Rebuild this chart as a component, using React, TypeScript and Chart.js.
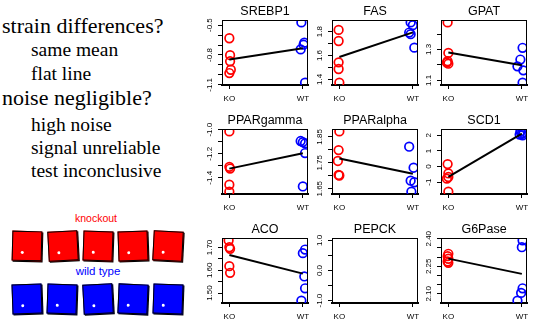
import React, { useEffect, useRef } from 'react';
import { Chart, registerables } from 'chart.js';

Chart.register(...registerables);

const GROUPS = ['KO', 'WT'];

const srebp1KO = [-0.632, -0.802, -0.863, -0.948, -0.981];
const srebp1KOx = [1.0, 1.01, 1.01, 1.02, 1.0];
const srebp1WT = [-0.473, -0.676, -0.696, -0.744, -1.077];
const srebp1WTx = [1.98, 2.02, 2.01, 1.97, 2.03];
const srebp1Ticks = [-1.1, -1.0, -0.9, -0.8, -0.7, -0.6, -0.5];
const srebp1Labels = ['-1.1', '', '', '-0.8', '', '', '-0.5'];

const fasKO = [1.815, 1.722, 1.543, 1.487, 1.373];
const fasKOx = [0.99, 0.99, 0.99, 0.99, 1.0];
const fasWT = [1.878, 1.855, 1.793, 1.779, 1.666];
const fasWTx = [1.97, 2.0, 1.95, 1.97, 2.02];
const fasTicks = [1.4, 1.5, 1.6, 1.7, 1.8];
const fasLabels = ['1.4', '', '1.6', '', '1.8'];

const gpatKO = [1.475, 1.278, 1.224, 1.215, 1.208];
const gpatKOx = [0.99, 1.0, 0.99, 0.98, 1.0];
const gpatWT = [1.311, 1.235, 1.191, 1.165, 1.086];
const gpatWTx = [2.01, 1.98, 1.94, 2.02, 2.01];
const gpatTicks = [1.1, 1.2, 1.3, 1.4];
const gpatLabels = ['1.1', '', '1.3', ''];

const ppargKO = [-1.014, -1.309, -1.323, -1.458, -1.515];
const ppargKOx = [1.0, 1.0, 1.01, 1.0, 1.0];
const ppargWT = [-1.094, -1.103, -1.114, -1.194, -1.472];
const ppargWTx = [1.97, 2.0, 2.03, 2.03, 2.0];
const ppargTicks = [-1.4, -1.3, -1.2, -1.1, -1.0];
const ppargLabels = ['-1.4', '', '-1.2', '', '-1.0'];

const pparaKO = [1.871, 1.799, 1.757, 1.701, 1.703];
const pparaKOx = [1.0, 0.99, 0.98, 1.0, 0.99];
const pparaWT = [1.812, 1.731, 1.681, 1.675, 1.639];
const pparaWTx = [1.95, 2.01, 1.97, 2.02, 1.98];
const pparaTicks = [1.65, 1.7, 1.75, 1.8, 1.85];
const pparaLabels = ['1.65', '', '1.75', '', '1.85'];

const scd1KO = [0.16, -0.44, -0.667, -0.773, -1.6];
const scd1KOx = [0.99, 1.0, 1.0, 0.98, 1.0];
const scd1WT = [2.25, 2.15, 2.1, 2.05, 2.0];
const scd1WTx = [1.98, 2.02, 2.0, 1.97, 2.01];
const scd1Ticks = [-1, 0, 1, 2];
const scd1Labels = ['-1', '0', '1', '2'];

const acoKO = [1.731, 1.701, 1.694, 1.618, 1.589];
const acoKOx = [0.99, 1.0, 1.01, 1.0, 1.01];
const acoWT = [1.691, 1.675, 1.573, 1.521, 1.467];
const acoWTx = [2.03, 2.0, 2.02, 2.03, 1.98];
const acoTicks = [1.5, 1.55, 1.6, 1.65, 1.7];
const acoLabels = ['1.50', '', '1.60', '', '1.70'];

const pepckKO: number[] = [];
const pepckKOx: number[] = [];
const pepckWT: number[] = [];
const pepckWTx: number[] = [];
const pepckTicks = [-1, -0.5, 0, 0.5, 1];
const pepckLabels = ['-1.0', '', '0.0', '', '1.0'];

const g6pKO = [2.318, 2.305, 2.291, 2.276, 2.269];
const g6pKOx = [1.0, 0.99, 1.0, 0.99, 1.0];
const g6pWT = [2.391, 2.354, 2.13, 2.105, 2.063];
const g6pWTx = [2.01, 2.0, 2.01, 1.99, 1.94];
const g6pTicks = [2.1, 2.15, 2.2, 2.25, 2.3, 2.35, 2.4];
const g6pLabels = ['2.10', '', '', '2.25', '', '', '2.40'];

type PanelData = {
  name: string;
  ko: number[];
  koX: number[];
  wt: number[];
  wtX: number[];
  ticks: number[];
  labels: string[];
};

const PANELS: PanelData[] = [
  { name: 'SREBP1', ko: srebp1KO, koX: srebp1KOx, wt: srebp1WT, wtX: srebp1WTx, ticks: srebp1Ticks, labels: srebp1Labels },
  { name: 'FAS', ko: fasKO, koX: fasKOx, wt: fasWT, wtX: fasWTx, ticks: fasTicks, labels: fasLabels },
  { name: 'GPAT', ko: gpatKO, koX: gpatKOx, wt: gpatWT, wtX: gpatWTx, ticks: gpatTicks, labels: gpatLabels },
  { name: 'PPARgamma', ko: ppargKO, koX: ppargKOx, wt: ppargWT, wtX: ppargWTx, ticks: ppargTicks, labels: ppargLabels },
  { name: 'PPARalpha', ko: pparaKO, koX: pparaKOx, wt: pparaWT, wtX: pparaWTx, ticks: pparaTicks, labels: pparaLabels },
  { name: 'SCD1', ko: scd1KO, koX: scd1KOx, wt: scd1WT, wtX: scd1WTx, ticks: scd1Ticks, labels: scd1Labels },
  { name: 'ACO', ko: acoKO, koX: acoKOx, wt: acoWT, wtX: acoWTx, ticks: acoTicks, labels: acoLabels },
  { name: 'PEPCK', ko: pepckKO, koX: pepckKOx, wt: pepckWT, wtX: pepckWTx, ticks: pepckTicks, labels: pepckLabels },
  { name: 'G6Pase', ko: g6pKO, koX: g6pKOx, wt: g6pWT, wtX: g6pWTx, ticks: g6pTicks, labels: g6pLabels },
];

const COL_LEFT = [222, 332, 441];
const ROW_TOP = [20, 129, 238];
const BOX_W = 86;
const BOX_H = 65;
const PAD_L = 32;
const PAD_T = 20;
const PAD_B = 16;
const PAD_R = 32;

const SANS = '"Liberation Sans", Arial, sans-serif';
const SERIF = '"Liberation Serif", "Times New Roman", serif';

const boxPlugin = {
  id: 'boxFrame',
  afterDraw(chart: any) {
    const { ctx, chartArea } = chart;
    ctx.save();
    ctx.strokeStyle = '#000';
    ctx.lineWidth = 1;
    ctx.strokeRect(
      Math.round(chartArea.left) + 0.5,
      Math.round(chartArea.top) + 0.5,
      Math.round(chartArea.right - chartArea.left) - 1,
      Math.round(chartArea.bottom - chartArea.top)
    );
    ctx.restore();
  },
};

function mean(a: number[]) {
  return a.reduce((s, v) => s + v, 0) / a.length;
}

function Panel({ p, left, top }: { p: PanelData; left: number; top: number }) {
  const ref = useRef<HTMLCanvasElement>(null);
  useEffect(() => {
    const all = [...p.ko, ...p.wt];
    let lo = all.length ? Math.min(...all) : -1;
    let hi = all.length ? Math.max(...all) : 1;
    const ext = (hi - lo) * 0.04;
    lo -= ext;
    hi += ext;
    const lineData = all.length
      ? [
          { x: 1, y: mean(p.ko) },
          { x: 2, y: mean(p.wt) },
        ]
      : [];
    const mctx = document.createElement('canvas').getContext('2d')!;
    mctx.font = '8px ' + SANS;
    const widest = Math.max(...p.labels.map((s) => mctx.measureText(s).width));
    const tickFont = { family: SANS, size: 8 };
    const chart = new Chart(ref.current!, {
      type: 'scatter',
      data: {
        datasets: [
          {
            data: lineData,
            showLine: true,
            borderColor: '#000',
            borderWidth: 2,
            pointRadius: 0,
            fill: false,
          },
          {
            data: p.ko.map((y, i) => ({ x: p.koX[i], y })),
            borderColor: '#ff0000',
            backgroundColor: 'rgba(0,0,0,0)',
            pointRadius: 4.3,
            borderWidth: 1.7,
          },
          {
            data: p.wt.map((y, i) => ({ x: p.wtX[i], y })),
            borderColor: '#0000ff',
            backgroundColor: 'rgba(0,0,0,0)',
            pointRadius: 4.3,
            borderWidth: 1.7,
          },
        ],
      } as any,
      options: {
        animation: false,
        responsive: false,
        events: [],
        layout: { padding: 0 },
        plugins: {
          legend: { display: false },
          tooltip: { enabled: false },
          title: {
            display: true,
            text: p.name,
            color: '#000',
            align: 'center',
            font: { family: SANS, size: 12.5, weight: 'normal' },
            padding: { top: 4, bottom: PAD_T - 15 - 4 },
          },
        },
        scales: {
          x: {
            type: 'linear',
            min: 0.9,
            max: 2.07,
            afterBuildTicks: (s: any) => {
              s.ticks = [{ value: 1 }, { value: 2 }];
            },
            afterFit: (s: any) => {
              s.height = PAD_B;
            },
            ticks: {
              callback: (v: any) => GROUPS[Math.round(Number(v)) - 1],
              font: tickFont,
              color: '#000',
              padding: 5,
              autoSkip: false,
              maxRotation: 0,
              minRotation: 0,
            },
            grid: {
              display: true,
              drawOnChartArea: false,
              drawTicks: true,
              tickLength: 4,
              color: '#000',
              lineWidth: 1,
            },
            border: { display: true, color: '#000', width: 2 },
          },
          y: {
            type: 'linear',
            position: 'left',
            min: lo,
            max: hi,
            afterBuildTicks: (s: any) => {
              s.ticks = p.ticks.map((v) => ({ value: v }));
            },
            afterFit: (s: any) => {
              s.width = PAD_L;
            },
            ticks: {
              callback: (_v: any, i: number) => p.labels[i],
              font: tickFont,
              color: '#000',
              minRotation: 90,
              maxRotation: 90,
              crossAlign: 'center',
              padding: Math.max(0, 8 - widest / 2),
              autoSkip: false,
            },
            grid: {
              display: true,
              drawOnChartArea: false,
              drawTicks: true,
              tickLength: 4,
              color: '#000',
              lineWidth: 1,
            },
            border: { display: true, color: '#000', width: 1 },
          },
          yRight: {
            type: 'linear',
            position: 'right',
            display: true,
            min: 0,
            max: 1,
            ticks: { display: false },
            grid: { display: false, drawTicks: false },
            border: { display: false },
            afterFit: (s: any) => {
              s.width = PAD_R;
            },
          },
        },
      } as any,
      plugins: [boxPlugin],
    });
    return () => chart.destroy();
  }, []);
  return (
    <canvas
      ref={ref}
      width={PAD_L + BOX_W + PAD_R}
      height={PAD_T + BOX_H + PAD_B}
      style={{
        position: 'absolute',
        left: left - PAD_L,
        top: top - PAD_T,
        width: PAD_L + BOX_W + PAD_R,
        height: PAD_T + BOX_H + PAD_B,
      }}
    />
  );
}

const TEXT_LINES = [
  { t: 'strain differences?', main: true, base: 33 },
  { t: 'same mean', main: false, base: 56 },
  { t: 'flat line', main: false, base: 80 },
  { t: 'noise negligible?', main: true, base: 105 },
  { t: 'high noise', main: false, base: 131 },
  { t: 'signal unreliable', main: false, base: 154 },
  { t: 'test inconclusive', main: false, base: 177 },
];

const RED_SQ = [
  { x: 12, r: 1.5 },
  { x: 48, r: -3 },
  { x: 83, r: 2 },
  { x: 118, r: -2 },
  { x: 153, r: 3 },
];
const BLUE_SQ = [
  { x: 12, r: -2 },
  { x: 47, r: 2 },
  { x: 83, r: -3 },
  { x: 118, r: 2.5 },
  { x: 153, r: 2 },
];

function Square({ x, y, r, color }: { x: number; y: number; r: number; color: string }) {
  return (
    <div
      style={{
        position: 'absolute',
        left: x,
        top: y,
        width: 30,
        height: 30,
        background: color,
        border: '1px solid #000',
        boxShadow: '1px 1px 0 #000',
        transform: `rotate(${r}deg)`,
        boxSizing: 'border-box',
      }}
    >
      <div
        style={{
          position: 'absolute',
          left: 8,
          top: 19,
          width: 3,
          height: 3,
          borderRadius: 2,
          background: '#fff',
        }}
      />
    </div>
  );
}

export default function App() {
  return (
    <div
      style={{
        position: 'fixed',
        left: 0,
        top: 0,
        width: 534,
        height: 321,
        background: '#fff',
        overflow: 'hidden',
      }}
    >
      {TEXT_LINES.map((l, i) => {
        const size = l.main ? 22 : 19.5;
        return (
          <div
            key={i}
            style={{
              position: 'absolute',
              left: l.main ? 2 : 31,
              top: l.base - 0.8375 * size,
              fontFamily: SERIF,
              fontSize: size,
              lineHeight: 1,
              whiteSpace: 'nowrap',
              color: '#000',
            }}
          >
            {l.t}
          </div>
        );
      })}
      <div
        style={{
          position: 'absolute',
          left: 46,
          width: 100,
          top: 213,
          textAlign: 'center',
          fontFamily: SANS,
          fontSize: 10.5,
          lineHeight: 1,
          color: '#ff0000',
        }}
      >
        knockout
      </div>
      <div
        style={{
          position: 'absolute',
          left: 48,
          width: 100,
          top: 266,
          textAlign: 'center',
          fontFamily: SANS,
          fontSize: 11.5,
          lineHeight: 1,
          color: '#0000ff',
        }}
      >
        wild type
      </div>
      {RED_SQ.map((s, i) => (
        <Square key={'r' + i} x={s.x} y={231} r={s.r} color="#ff0000" />
      ))}
      {BLUE_SQ.map((s, i) => (
        <Square key={'b' + i} x={s.x} y={284} r={s.r} color="#0000ff" />
      ))}
      {PANELS.map((p, i) => (
        <Panel key={p.name} p={p} left={COL_LEFT[i % 3]} top={ROW_TOP[Math.floor(i / 3)]} />
      ))}
    </div>
  );
}
